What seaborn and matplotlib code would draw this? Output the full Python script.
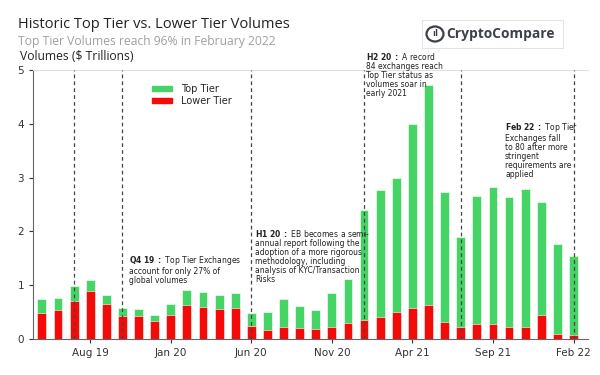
import pandas as pd
import seaborn as sns
import matplotlib.pyplot as plt
from matplotlib.patches import Patch, FancyBboxPatch, Ellipse

months = ["May 19", "Jun 19", "Jul 19", "Aug 19", "Sep 19", "Oct 19", "Nov 19", "Dec 19",
          "Jan 20", "Feb 20", "Mar 20", "Apr 20", "May 20", "Jun 20", "Jul 20", "Aug 20",
          "Sep 20", "Oct 20", "Nov 20", "Dec 20", "Jan 21", "Feb 21", "Mar 21", "Apr 21",
          "May 21", "Jun 21", "Jul 21", "Aug 21", "Sep 21", "Oct 21", "Nov 21", "Dec 21",
          "Jan 22", "Feb 22"]
lower_tier = [0.49, 0.54, 0.71, 0.90, 0.65, 0.42, 0.42, 0.33, 0.45, 0.64, 0.60, 0.56,
              0.57, 0.25, 0.17, 0.22, 0.20, 0.18, 0.23, 0.29, 0.36, 0.41, 0.50, 0.58,
              0.64, 0.32, 0.22, 0.27, 0.27, 0.23, 0.23, 0.44, 0.10, 0.07]
top_tier = [0.25, 0.23, 0.28, 0.20, 0.17, 0.16, 0.13, 0.11, 0.21, 0.28, 0.28, 0.25,
            0.28, 0.24, 0.33, 0.53, 0.42, 0.35, 0.63, 0.82, 2.04, 2.36, 2.50, 3.41,
            4.09, 2.41, 1.68, 2.39, 2.55, 2.41, 2.56, 2.11, 1.67, 1.47]
tick_months = ["Aug 19", "Jan 20", "Jun 20", "Nov 20", "Apr 21", "Sep 21", "Feb 22"]
event_months = ["Jul 19", "Oct 19", "Jun 20", "Jan 21", "Jul 21", "Feb 22"]

GREEN = "#47d466"
RED = "#f50a0a"

df = pd.DataFrame({"month": months, "top": top_tier, "lower": lower_tier})
df["total"] = df["top"] + df["lower"]

sns.set_style("ticks")
plt.rcParams["font.family"] = ["DejaVu Sans"]
plt.rcParams["mathtext.fontset"] = "dejavusans"

fig = plt.figure(figsize=(6, 3.75), dpi=100)
ax = fig.add_axes([0.055, 0.096, 0.925, 0.717])

sns.barplot(data=df, x="month", y="total", color=GREEN, saturation=1, width=0.55,
            edgecolor="white", linewidth=0.4, ax=ax)
sns.barplot(data=df, x="month", y="lower", color=RED, saturation=1, width=0.55,
            edgecolor="white", linewidth=0.4, ax=ax)

for m in event_months:
    ax.axvline(months.index(m), color="#444444", ls=(0, (3, 2.5)), lw=0.9, zorder=4)

ax.set_xlim(-0.55, 33.9)
ax.set_ylim(0, 5)
ax.set_xticks([months.index(m) for m in tick_months])
ax.set_xticklabels(tick_months)
ax.set_yticks(range(6))
ax.tick_params(labelsize=7.5, length=3, colors="#333333")
ax.set_xlabel("")
ax.set_ylabel("")
for s in ["left", "bottom"]:
    ax.spines[s].set_color("#666666")
ax.spines["top"].set_color("#e0e0e0")
ax.spines["right"].set_visible(False)

ax.legend(handles=[Patch(color=GREEN, label="Top Tier"), Patch(color=RED, label="Lower Tier")],
          loc="upper left", bbox_to_anchor=(0.2535, 0.777), bbox_transform=fig.transFigure,
          frameon=False, fontsize=7, borderpad=0, borderaxespad=0, handlelength=2.06,
          handleheight=0.45, handletextpad=0.87, labelspacing=0.25)


def note(x, y, head, lines):
    label = r"$\bf{" + head.replace(" ", r"\ ") + "}$ " + "\n".join(lines)
    ax.text(x, y, label, fontsize=5.5, color="#222222", ha="left", va="top",
            linespacing=1.0, zorder=5, clip_on=False)


note(5.43, 1.58, "Q4 19 :", ["Top Tier Exchanges", "account for only 27% of", "global volumes"])
note(13.25, 2.07, "H1 20 :", ["EB becomes a semi-", "annual report following the",
                              "adoption of a more rigorous", "methodology, including",
                              "analysis of KYC/Transaction", "Risks"])
note(20.15, 5.36, "H2 20 :", ["A record", "84 exchanges reach", "Top Tier status as",
                              "volumes soar in", "early 2021"])
note(28.75, 4.05, "Feb 22 :", ["Top Tier", "Exchanges fall", "to 80 after more",
                               "stringent", "requirements are", "applied"])

fig.text(0.03, 0.936, "Historic Top Tier vs. Lower Tier Volumes", fontsize=10.5,
         family=["Open Sans", "DejaVu Sans"], color="#222222", va="center")
fig.text(0.03, 0.89, "Top Tier Volumes reach 96% in February 2022", fontsize=8.7,
         family=["Open Sans", "DejaVu Sans"], color="#a0a0a0", va="center")
fig.text(0.033, 0.848, "Volumes ($ Trillions)", fontsize=8.7,
         family=["Open Sans", "DejaVu Sans"], color="#222222", va="center")

# logo
fig.patches.append(FancyBboxPatch((422 / 600, 1 - 48 / 375), 141 / 600, 28 / 375,
                                  boxstyle="square,pad=0", transform=fig.transFigure,
                                  facecolor="white", edgecolor="#e4e4e4", lw=0.8))
fig.patches.append(Ellipse((435 / 600, 1 - 34 / 375), 17 / 600, 15 / 375,
                           transform=fig.transFigure, facecolor="none",
                           edgecolor="#3c4049", lw=1.6))
fig.text(435 / 600, 1 - 34 / 375, "ıl", fontsize=6, fontweight="bold", color="#3c4049",
         ha="center", va="center")
fig.text(446 / 600, 1 - 34 / 375, "CryptoCompare", fontsize=9.9, fontweight="bold",
         family=["Open Sans", "DejaVu Sans"], color="#3c4049", va="center")

fig.savefig("out.png", dpi=100)
